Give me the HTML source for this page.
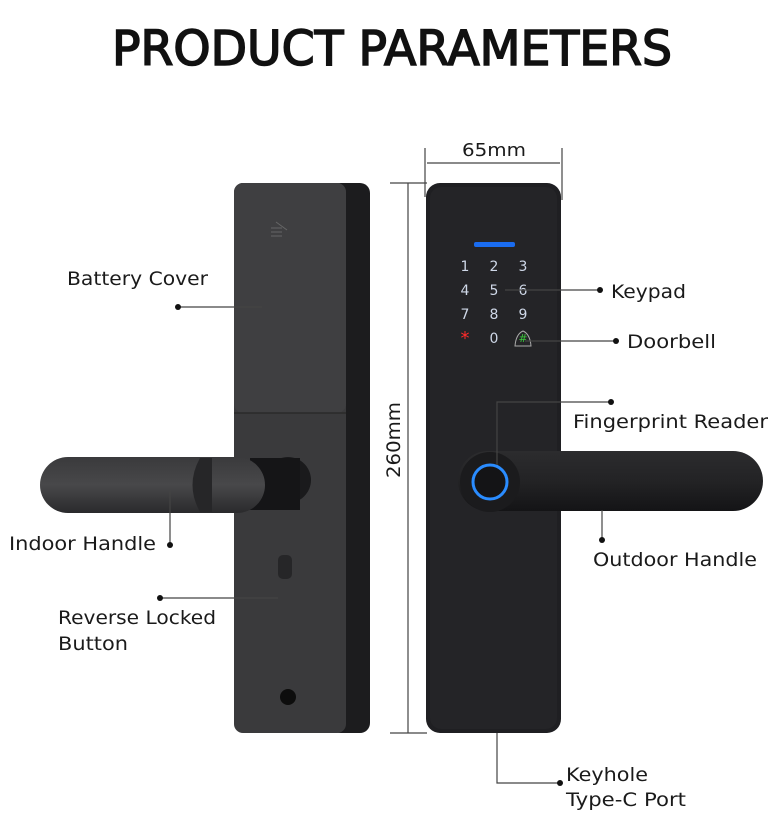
<!DOCTYPE html>
<html><head><meta charset="utf-8"><style>
html,body{margin:0;padding:0;background:#fff;width:780px;height:825px;overflow:hidden}
svg text{font-family:"DejaVu Sans","Liberation Sans",sans-serif;fill:#1a1a1a}
</style></head><body>
<svg width="780" height="825" viewBox="0 0 780 825" xmlns="http://www.w3.org/2000/svg">
<defs>
<linearGradient id="lh" x1="0" y1="0" x2="0" y2="1"><stop offset="0" stop-color="#3a3a3c"/><stop offset="0.5" stop-color="#48484a"/><stop offset="1" stop-color="#2a2a2c"/></linearGradient>
<linearGradient id="rh" x1="0" y1="0" x2="0" y2="1"><stop offset="0" stop-color="#2c2c2e"/><stop offset="0.5" stop-color="#232325"/><stop offset="1" stop-color="#141416"/></linearGradient>
</defs>
<text x="392" y="65" text-anchor="middle" font-size="48" textLength="560" lengthAdjust="spacingAndGlyphs" style="fill:#111;stroke:#111;stroke-width:1.6">PRODUCT PARAMETERS</text>

<rect x="330" y="183" width="40" height="550" rx="10" fill="#1c1c1e"/>
<rect x="234" y="183" width="112" height="550" rx="9" fill="#3a3a3c"/>
<rect x="234" y="183" width="112" height="230" rx="9" fill="#3f3f41"/>
<line x1="234" y1="413" x2="346" y2="413" stroke="#2a2a2a" stroke-width="1.5"/>
<g stroke="#666" stroke-width="1"><line x1="271" y1="228" x2="282" y2="228"/><line x1="271" y1="232" x2="282" y2="232"/><line x1="271" y1="236" x2="282" y2="236"/><line x1="276" y1="222" x2="287" y2="230"/></g>
<circle cx="288" cy="480" r="23" fill="#1a1a1c"/>
<rect x="250" y="458" width="50" height="52" fill="#151517"/>
<rect x="40" y="457" width="225" height="56" rx="28" fill="url(#lh)"/>
<path d="M200 458 Q185 485 200 512 L212 512 L212 458Z" fill="#262628"/>
<rect x="278" y="555" width="14" height="24" rx="5" fill="#262628"/>
<circle cx="288" cy="697" r="8" fill="#0d0d0d"/>

<rect x="426" y="183" width="135" height="550" rx="14" fill="#1f1f22"/>
<rect x="430" y="187" width="127" height="542" rx="11" fill="#242427"/>
<rect x="474" y="242" width="41" height="5" rx="2" fill="#1a6cf0"/>
<g font-size="14" text-anchor="middle">
<text x="465" y="271" style="fill:#cfd8e8">1</text><text x="494" y="271" style="fill:#cfd8e8">2</text><text x="523" y="271" style="fill:#cfd8e8">3</text>
<text x="465" y="295" style="fill:#cfd8e8">4</text><text x="494" y="295" style="fill:#cfd8e8">5</text><text x="523" y="295" style="fill:#cfd8e8">6</text>
<text x="465" y="319" style="fill:#cfd8e8">7</text><text x="494" y="319" style="fill:#cfd8e8">8</text><text x="523" y="319" style="fill:#cfd8e8">9</text>
<text x="465" y="344" font-size="18" style="fill:#ff2a2a">*</text><text x="494" y="343" style="fill:#cfd8e8">0</text><text x="523" y="342" font-size="11" style="fill:#3cc63c">#</text>
</g>
<path d="M515 346 Q516 334 523 331 Q530 334 531 346Z" fill="none" stroke="#aaa" stroke-width="1"/>
<rect x="458" y="451" width="305" height="60" rx="30" fill="url(#rh)"/>
<circle cx="490" cy="482" r="30" fill="#1b1b1d"/>
<circle cx="490" cy="482" r="17" fill="#141416" stroke="#2a8cff" stroke-width="3"/>

<g stroke="#444" stroke-width="1.2" fill="none">
<line x1="425" y1="148" x2="425" y2="197"/><line x1="562" y1="148" x2="562" y2="200"/><line x1="427" y1="163" x2="560" y2="163"/>
<line x1="390" y1="183" x2="427" y2="183"/><line x1="390" y1="733" x2="427" y2="733"/><line x1="408" y1="183" x2="408" y2="733"/>
<polyline points="262,307 178,307"/>
<polyline points="170,490 170,545"/>
<polyline points="278,598 160,598"/>
<polyline points="505,290 600,290"/>
<polyline points="525,341 616,341"/>
<polyline points="497,465 497,402 611,402"/>
<polyline points="602,510 602,540"/>
<polyline points="497,733 497,783 560,783"/>
</g>
<g fill="#111">
<circle cx="178" cy="307" r="3"/><circle cx="170" cy="545" r="3"/><circle cx="160" cy="598" r="3"/>
<circle cx="600" cy="290" r="3"/><circle cx="616" cy="341" r="3"/><circle cx="611" cy="402" r="3"/>
<circle cx="602" cy="540" r="3"/><circle cx="560" cy="783" r="3"/>
</g>
<text x="494" y="156" text-anchor="middle" font-size="18" textLength="64" lengthAdjust="spacingAndGlyphs">65mm</text>
<text transform="translate(400,440) rotate(-90)" text-anchor="middle" font-size="19" textLength="76" lengthAdjust="spacingAndGlyphs">260mm</text>
<g font-size="19">
<text x="67" y="285" textLength="141" lengthAdjust="spacingAndGlyphs">Battery Cover</text>
<text x="9" y="550" textLength="147" lengthAdjust="spacingAndGlyphs">Indoor Handle</text>
<text x="58" y="624" textLength="158" lengthAdjust="spacingAndGlyphs">Reverse Locked</text>
<text x="58" y="650" textLength="70" lengthAdjust="spacingAndGlyphs">Button</text>
<text x="611" y="298" textLength="75" lengthAdjust="spacingAndGlyphs">Keypad</text>
<text x="627" y="348" textLength="89" lengthAdjust="spacingAndGlyphs">Doorbell</text>
<text x="573" y="428" textLength="195" lengthAdjust="spacingAndGlyphs">Fingerprint Reader</text>
<text x="593" y="566" textLength="164" lengthAdjust="spacingAndGlyphs">Outdoor Handle</text>
<text x="566" y="781" textLength="82" lengthAdjust="spacingAndGlyphs">Keyhole</text>
<text x="566" y="806" textLength="120" lengthAdjust="spacingAndGlyphs">Type-C Port</text>
</g>
</svg>
</body></html>
